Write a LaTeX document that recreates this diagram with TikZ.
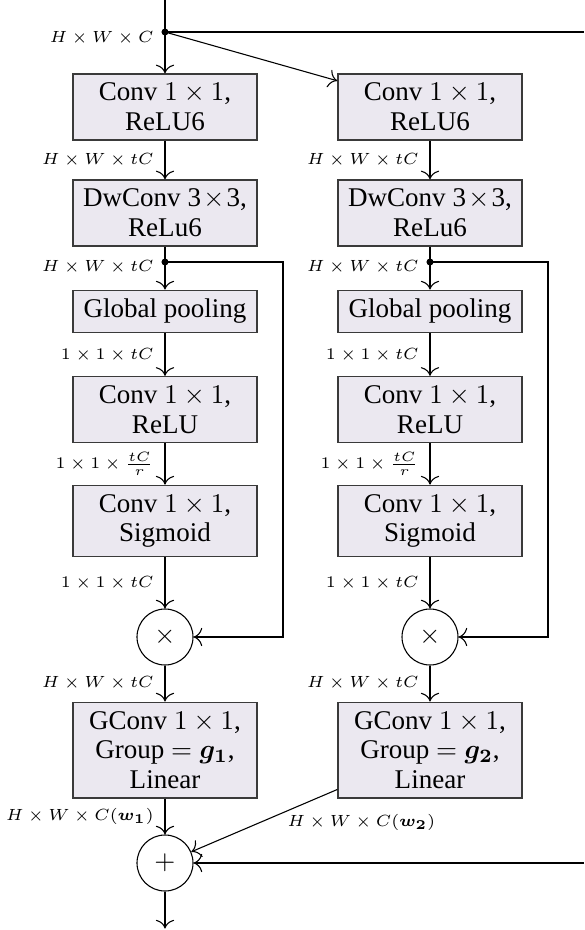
\documentclass[tikz,border=0pt]{standalone}
\usepackage{amsmath}
\usepackage{fontspec}
\setmainfont{Liberation Serif}
\usetikzlibrary{arrows.meta, positioning, calc}
\newdimen\px \px=0.37pt
\definecolor{blkfill}{HTML}{EBE8F0}
\definecolor{blkline}{HTML}{3A3A3A}
\tikzset{
  blk/.style={rectangle, draw=blkline, line width=0.5pt, fill=blkfill, minimum width=184\px,
    align=center, font=\fontsize{10}{11}\selectfont},
  op/.style={circle, draw, line width=0.4pt, minimum size=56\px, inner sep=0pt},
  lbl/.style={font=\fontsize{6.2}{7.4}\selectfont, inner sep=1.2pt},
  arr/.style={-{To[scale=1.3]}, line width=0.4pt},
}
\begin{document}
\begin{tikzpicture}
  \useasboundingbox (0,0) rectangle (584\px,-930\px);
  \coordinate (in) at (165\px,0);
  \coordinate (fork) at (165\px,-32\px);
  \coordinate (edgetop) at (584\px,-32\px);
  % first branch
  \node[blk] (conv1) at (165\px,-107\px) {Conv $1\times1$,\\ ReLU6};
  \node[blk] (dw1) at (165\px,-213\px) {DwConv 3$\mkern1.5mu\times\mkern1.5mu$3,\\ ReLu6};
  \coordinate (split1) at (165\px,-262\px);
  \node[blk] (pool1) at (165\px,-311.5\px) {Global pooling};
  \node[blk] (relu1) at (165\px,-409.5\px) {Conv $1\times1$,\\ ReLU};
  \node[blk] (sig1) at (165\px,-521\px) {Conv $1\times1$,\\ Sigmoid};
  \node[op] (mul1) at (165\px,-637\px) {$\times$};
  \node[blk] (gconv1) at (165\px,-750\px) {GConv $1\times1$,\\ Group $=\boldsymbol{g_1}$,\\ Linear};
  \node[op] (plus) at (165\px,-863\px) {$+$};
  \coordinate[below=37\px of plus] (out);
  % second branch
  \node[blk] (conv2) at ([xshift=265\px]conv1) {Conv $1\times1$,\\ ReLU6};
  \node[blk] (dw2) at ([xshift=265\px]dw1) {DwConv 3$\mkern1.5mu\times\mkern1.5mu$3,\\ ReLu6};
  \coordinate (split2) at ([xshift=265\px]split1);
  \node[blk] (pool2) at ([xshift=265\px]pool1) {Global pooling};
  \node[blk] (relu2) at ([xshift=265\px]relu1) {Conv $1\times1$,\\ ReLU};
  \node[blk] (sig2) at ([xshift=265\px]sig1) {Conv $1\times1$,\\ Sigmoid};
  \node[op] (mul2) at ([xshift=265\px]mul1) {$\times$};
  \node[blk] (gconv2) at ([xshift=265\px]gconv1) {GConv $1\times1$,\\ Group $=\boldsymbol{g_2}$,\\ Linear};
  \coordinate (edgebot) at (edgetop |- plus);

  \draw (in) -- (fork);
  \draw[arr] (fork) -- node[lbl, left=2.8pt, pos=0.15] {$H\times W\times C$} (conv1);
  \draw[arr] (fork) -- (conv2);
  \draw (fork) -- (edgetop);
  \fill (fork) circle (1.3pt);
  \foreach \c in {1,2} {
    \draw[arr] (conv\c) -- node[lbl, left=2.8pt] {$H\times W\times tC$} (dw\c);
    \draw (dw\c) -- (split\c);
    \draw[arr] (split\c) -- node[lbl, left=2.8pt, pos=0.17] {$H\times W\times tC$} (pool\c);
    \draw[arr] (pool\c) -- node[lbl, left=2.8pt] {$1\times1\times tC$} (relu\c);
    \draw[arr] (relu\c) -- node[lbl, left=2.8pt] {$1\times1\times\frac{tC}{r}$} (sig\c);
    \draw[arr] (sig\c) -- node[lbl, left=2.8pt] {$1\times1\times tC$} (mul\c);
    \draw[arr] (mul\c) -- node[lbl, left=2.8pt] {$H\times W\times tC$} (gconv\c);
    \draw[arr] (split\c) -- ++(118\px,0) |- (mul\c);
    \fill (split\c) circle (1.3pt);
  }
  \draw[arr] (gconv1) -- node[lbl, left=2.8pt] {$H\times W\times C(\boldsymbol{w_1})$} (plus);
  \draw[arr] (gconv2) -- (plus);
  \node[lbl] (w2lbl) at ([shift={(24\px,-24\px)}]gconv2.south west) {$H\times W\times C(\boldsymbol{w_2})$};
  \draw[arr] (edgebot) -- (plus);
  \draw[arr] (plus) -- (out);
\end{tikzpicture}
\end{document}
